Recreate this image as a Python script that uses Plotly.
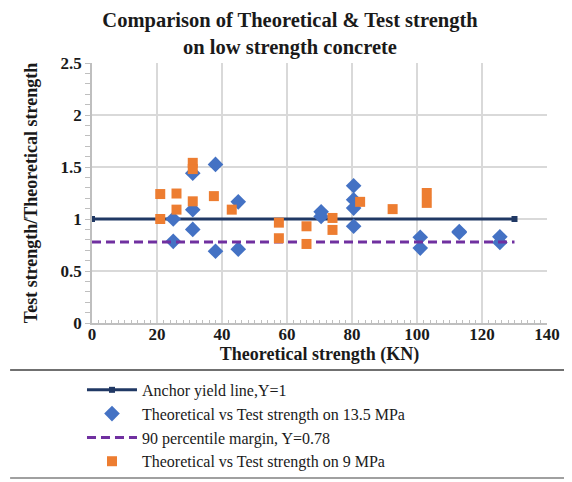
import plotly.graph_objects as go

# Anchor yield line and 90 percentile margin
line_x = [0, 130]
yield_y = [1, 1]
margin_y = [0.78, 0.78]

# Theoretical vs Test strength on 13.5 MPa
theo_135 = [25, 25, 31, 31, 31, 38, 38, 45, 45, 70.5, 70.5, 80.5, 80.5, 80.5, 80.5,
            101, 101, 113, 113, 125.5, 125.5]
ratio_135 = [1.0, 0.785, 1.44, 1.09, 0.9, 1.525, 0.69, 1.165, 0.71, 1.07, 1.025, 1.32,
             1.185, 1.105, 0.93, 0.825, 0.72, 0.88, 0.87, 0.83, 0.775]

# Theoretical vs Test strength on 9 MPa
theo_9 = [21, 21, 26, 26, 31, 31, 31, 37.5, 43, 57.5, 57.5, 66, 66, 74, 74, 82.5,
          92.5, 103, 103]
ratio_9 = [1.0, 1.24, 1.245, 1.09, 1.54, 1.48, 1.17, 1.22, 1.09, 0.965, 0.815, 0.93,
           0.76, 1.01, 0.895, 1.165, 1.095, 1.25, 1.155]

SERIF = "Times New Roman, Liberation Serif, DejaVu Serif, serif"
GRID = "#D9D9D9"
AXIS = "#BFBFBF"
INK = "#1a1a1a"

fig = go.Figure()

fig.add_trace(go.Scatter(
    x=line_x, y=yield_y, mode="lines+markers",
    name="Anchor yield line,Y=1",
    line=dict(color="#203864", width=3),
    marker=dict(symbol="square", size=6, color="#203864"),
))
fig.add_trace(go.Scatter(
    x=theo_135, y=ratio_135, mode="markers",
    name="Theoretical vs Test strength on 13.5 MPa",
    marker=dict(symbol="diamond", size=12, color="#4472C4"),
))
fig.add_trace(go.Scatter(
    x=line_x, y=margin_y, mode="lines",
    name="90 percentile margin, Y=0.78",
    line=dict(color="#7030A0", width=3, dash="9px,5px"),
))
fig.add_trace(go.Scatter(
    x=theo_9, y=ratio_9, mode="markers",
    name="Theoretical vs Test strength on 9 MPa",
    marker=dict(symbol="square", size=10, color="#ED7D31"),
))

# page body adds an 8px offset, so the figure is sized to fit inside the window
fig.update_layout(
    width=564, height=474,
    margin=dict(l=84, r=25, t=55, b=159, autoexpand=False),
    paper_bgcolor="white", plot_bgcolor="white",
    font=dict(family=SERIF, color="black"),
    title=dict(
        text="Comparison of Theoretical & Test strength<br>on low strength concrete",
        x=0.5, xanchor="center", xref="container",
        y=0.959, yanchor="middle", yref="container",
        font=dict(family=SERIF, size=20.5, weight="bold", color=INK),
    ),
    showlegend=True,
    legend=dict(
        x=-0.022, xanchor="left", y=-0.192, yanchor="top",
        font=dict(family=SERIF, size=16, color=INK),
        itemwidth=50, tracegroupgap=0,
        bgcolor="rgba(0,0,0,0)",
    ),
    shapes=[
        dict(type="line", xref="paper", yref="paper",
             x0=-0.18, x1=1.055, y0=-0.181, y1=-0.181,
             line=dict(color="#404040", width=1.5)),
        dict(type="line", xref="paper", yref="paper",
             x0=-0.18, x1=1.055, y0=-0.596, y1=-0.596,
             line=dict(color="#808080", width=1.5)),
    ],
)

fig.update_xaxes(
    range=[0, 140], dtick=20, tick0=0, automargin=False,
    showgrid=True, gridcolor=GRID, gridwidth=1.5,
    showline=True, linecolor=AXIS, linewidth=1.5,
    zeroline=False,
    ticks="", ticklabelstandoff=-5,
    minor=dict(dtick=2, ticks="inside", ticklen=3, tickcolor=AXIS, showgrid=False),
    tickfont=dict(family=SERIF, size=17, weight="bold", color=INK),
    title=dict(text="Theoretical strength (KN)", standoff=0,
               font=dict(family=SERIF, size=18, weight="bold", color=INK)),
)
fig.update_yaxes(
    range=[0, 2.5], dtick=0.5, tick0=0, automargin=False,
    showgrid=True, gridcolor=GRID, gridwidth=1.5,
    showline=True, linecolor=AXIS, linewidth=1.5,
    zeroline=False,
    ticks="outside", ticklen=5, tickcolor=AXIS,
    minor=dict(dtick=0.1, ticks="outside", ticklen=5, tickcolor=AXIS, showgrid=False),
    tickfont=dict(family=SERIF, size=17, weight="bold", color=INK),
    title=dict(text="Test strength/Theoretical strength", standoff=18,
               font=dict(family=SERIF, size=18, weight="bold", color=INK)),
)

fig.write_html("out.html")
